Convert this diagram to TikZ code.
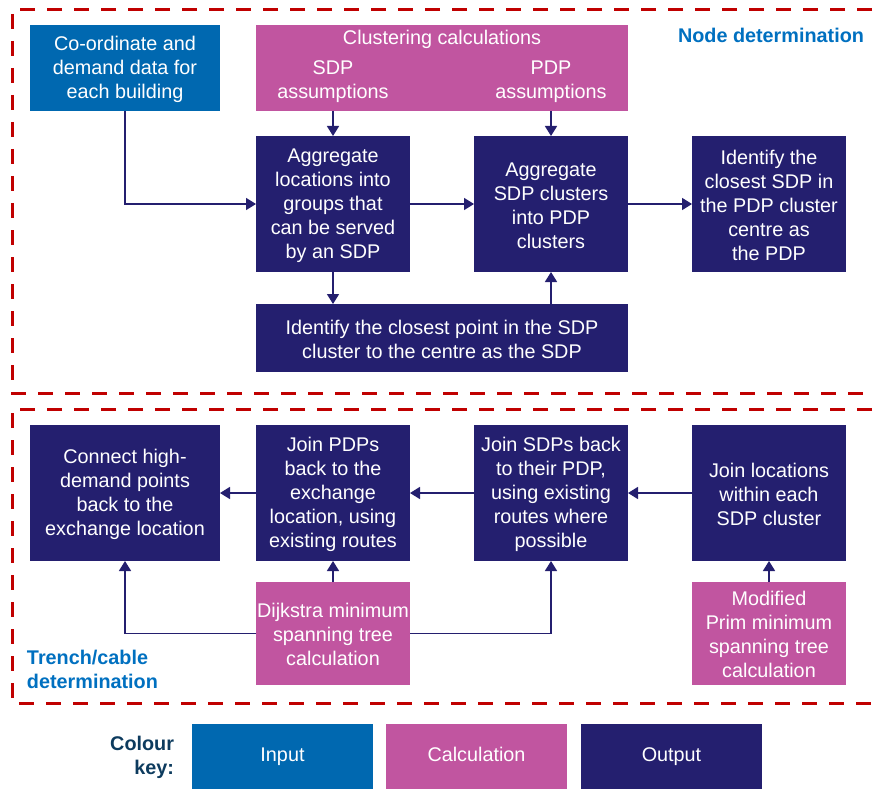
\documentclass[tikz,border=0pt]{standalone}
\usepackage{fontspec}
\setmainfont{Liberation Sans}
\usetikzlibrary{arrows.meta}
\definecolor{inblue}{HTML}{0068B0}
\definecolor{calcpink}{HTML}{C155A0}
\definecolor{outnavy}{HTML}{241F6F}
\definecolor{dashred}{HTML}{C00000}
\definecolor{lblblue}{HTML}{0070C0}
\definecolor{keyblue}{HTML}{0D3B5E}
\tikzset{
  every node/.style={font=\fontsize{19.8}{24}\selectfont, inner sep=0pt, outer sep=0pt, align=center},
  boxbase/.style={draw=none, text=white},
  inbox/.style={boxbase, fill=inblue},
  calcbox/.style={boxbase, fill=calcpink},
  outbox/.style={boxbase, fill=outnavy},
  redline/.style={draw=dashred, line width=3pt, dash pattern=on 15pt off 12pt},
  conn/.style={draw=outnavy, line width=1.6pt, -{Triangle[width=12pt,length=10pt]}},
  lbl/.style={text=lblblue, font=\bfseries\fontsize{19.8}{24}\selectfont},
}
\begin{document}
\begin{tikzpicture}[x=1pt,y=-1pt]
\useasboundingbox (0,0) rectangle (876,789);
% dashed frames
\draw[redline] (872,10) -- (12,10) -- (12,393) -- (872,393);
\draw[redline] (872,409) -- (12,409) -- (12,703) -- (872,703);
% top section
\node[inbox, minimum width=190pt, minimum height=86pt] (inp) at (125,68) {\strut Co-ordinate and\\demand data for\\each building};
\node[calcbox, minimum width=372pt, minimum height=86pt] (clust) at (442,68) {};
\node[text=white] (clt) at (442,39) {Clustering calculations};
\node[text=white] (sdpa) at (333,82) {SDP\\assumptions};
\node[text=white] (pdpa) at (551,82) {PDP\\assumptions};
\node[outbox, minimum width=154pt, minimum height=136pt] (agl) at (333,204) {\strut Aggregate\\locations into\\groups that\\can be served\\by an SDP};
\node[outbox, minimum width=154pt, minimum height=136pt] (ags) at (551,204) {\strut Aggregate\\SDP clusters\\into PDP\\clusters};
\node[outbox, minimum width=154pt, minimum height=136pt] (idp) at (769,204) {\strut Identify the\\closest SDP in\\the PDP cluster\\centre as\\the PDP};
\node[outbox, minimum width=372pt, minimum height=68pt] (idc) at (442,338) {\strut Identify the closest point in the SDP\\cluster to the centre as the SDP};
\node[lbl] (ndl) at (771,35) {Node determination};
% top connectors
\draw[conn] (inp.south) |- (agl.west);
\draw[conn] (clust.south -| sdpa) -- (agl.north);
\draw[conn] (clust.south -| pdpa) -- (ags.north);
\draw[conn] (agl.east) -- (ags.west);
\draw[conn] (ags.east) -- (idp.west);
\draw[conn] (agl.south) -- (idc.north -| agl);
\draw[conn] (idc.north -| ags) -- (ags.south);
% bottom section
\node[outbox, minimum width=190pt, minimum height=136pt] (chd) at (125,493) {\strut Connect high-\\demand points\\back to the\\exchange location};
\node[outbox, minimum width=154pt, minimum height=136pt] (jpd) at (333,493) {\strut Join PDPs\\back to the\\exchange\\location, using\\existing routes};
\node[outbox, minimum width=154pt, minimum height=136pt] (jsd) at (551,493) {\strut Join SDPs back\\to their PDP,\\using existing\\routes where\\possible};
\node[outbox, minimum width=154pt, minimum height=136pt] (jlo) at (769,493) {\strut Join locations\\within each\\SDP cluster};
\node[calcbox, minimum width=154pt, minimum height=103pt] (dij) at (333,633.5) {\strut Dijkstra minimum\\spanning tree\\calculation};
\node[calcbox, minimum width=154pt, minimum height=103pt] (prim) at (769,633.5) {\strut Modified\\Prim minimum\\spanning tree\\calculation};
\node[lbl, anchor=west, align=left] (tcl) at (27,669) {Trench/cable\\determination};
% bottom connectors
\draw[conn] (jlo.west) -- (jsd.east);
\draw[conn] (jsd.west) -- (jpd.east);
\draw[conn] (jpd.west) -- (chd.east);
\draw[conn] (dij.north) -- (jpd.south);
\draw[conn] (prim.north) -- (jlo.south);
\draw[conn] (dij.west) -| (chd.south);
\draw[conn] (dij.east) -| (jsd.south);
% colour key
\node[anchor=east, text=keyblue, font=\bfseries\fontsize{19.8}{24}\selectfont, align=right] (keyl) at (174,757) {Colour\\key:};
\node[inbox, minimum width=181pt, minimum height=66pt] (kin) at (282.5,757) {\strut Input};
\node[calcbox, minimum width=181pt, minimum height=66pt] (kca) at (476.5,757) {\strut Calculation};
\node[outbox, minimum width=181pt, minimum height=66pt] (kou) at (671.5,757) {\strut Output};
\end{tikzpicture}
\end{document}
